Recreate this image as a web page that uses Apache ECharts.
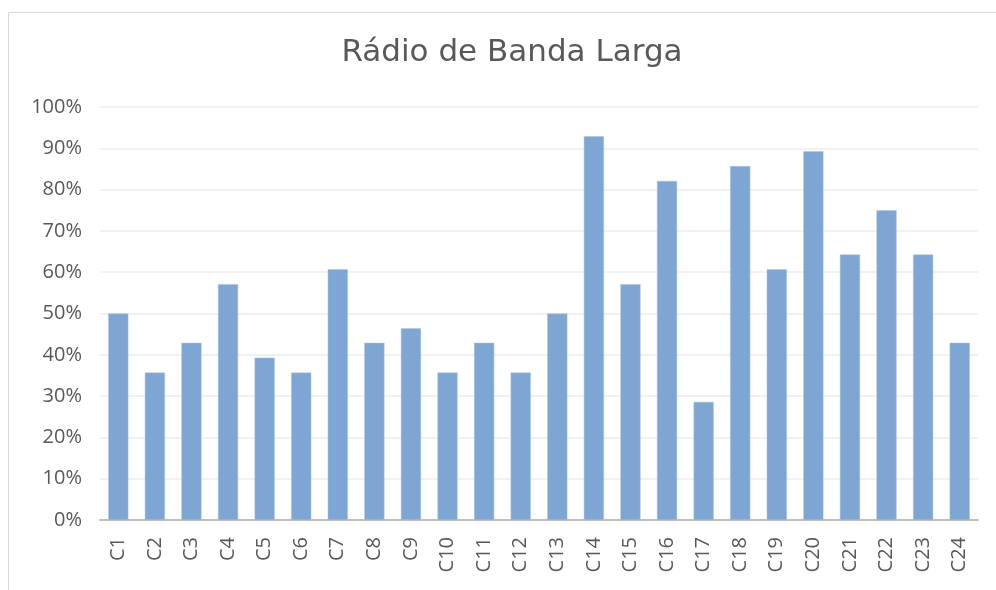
<!DOCTYPE html>
<html>
<head>
<meta charset="utf-8">
<script src="https://cdn.jsdelivr.net/npm/echarts@6/dist/echarts.min.js"></script>
<style>
  html, body { margin: 0; padding: 0; background: #fff; overflow: hidden; }
  #frame {
    position: absolute; left: 8px; top: 12px; width: 1000px; height: 600px;
    border: 1px solid #d9d9d9; box-sizing: border-box;
  }
  #charts { position: absolute; left: 0; top: 0; width: 996px; height: 590px; }
</style>
</head>
<body>
<div id="frame"></div>
<div id="charts"></div>
<script>
const categories = ['C1', 'C2', 'C3', 'C4', 'C5', 'C6', 'C7', 'C8', 'C9', 'C10', 'C11', 'C12',
  'C13', 'C14', 'C15', 'C16', 'C17', 'C18', 'C19', 'C20', 'C21', 'C22', 'C23', 'C24']
// percentages
const values = [50, 35.7, 42.9, 57.1, 39.3, 35.7, 60.7, 42.9, 46.4, 35.7, 42.9, 35.7,
  50, 92.9, 57.1, 82.1, 28.6, 85.7, 60.7, 89.3, 64.3, 75, 64.3, 42.9]
const yTicks = [0, 10, 20, 30, 40, 50, 60, 70, 80, 90, 100]

const textColor = '#595959'
const charts = echarts.init(document.getElementById('charts'))
const option = {
  animation: false,
  title: {
    text: 'Rádio de Banda Larga',
    left: 507,
    textAlign: 'center',
    top: 32,
    textStyle: {
      fontFamily: 'DejaVu Sans',
      fontSize: 31,
      fontWeight: 'normal',
      color: textColor
    }
  },
  grid: {
    left: 100,
    right: 18,
    top: 107,
    bottom: 70
  },
  xAxis: {
    type: 'category',
    data: categories,
    axisLine: { lineStyle: { color: '#bfbfbf', width: 2 } },
    axisTick: { show: false },
    axisLabel: {
      rotate: 90,
      margin: 17,
      color: textColor,
      fontFamily: 'Open Sans',
      fontSize: 20
    }
  },
  yAxis: {
    type: 'value',
    min: yTicks[0],
    max: yTicks[yTicks.length - 1],
    interval: 10,
    axisLine: { show: false },
    axisTick: { show: false },
    splitLine: { lineStyle: { color: '#ececec', width: 1.5 } },
    axisLabel: {
      formatter: '{value}%',
      margin: 18,
      color: textColor,
      fontFamily: 'Open Sans',
      fontSize: 20
    }
  },
  series: [
    {
      type: 'bar',
      data: values,
      barCategoryGap: '45%',
      itemStyle: {
        color: '#7fa6d2',
        borderColor: '#a9c3e2',
        borderWidth: 0.5
      }
    }
  ]
}
charts.setOption(option)
</script>
</body>
</html>
